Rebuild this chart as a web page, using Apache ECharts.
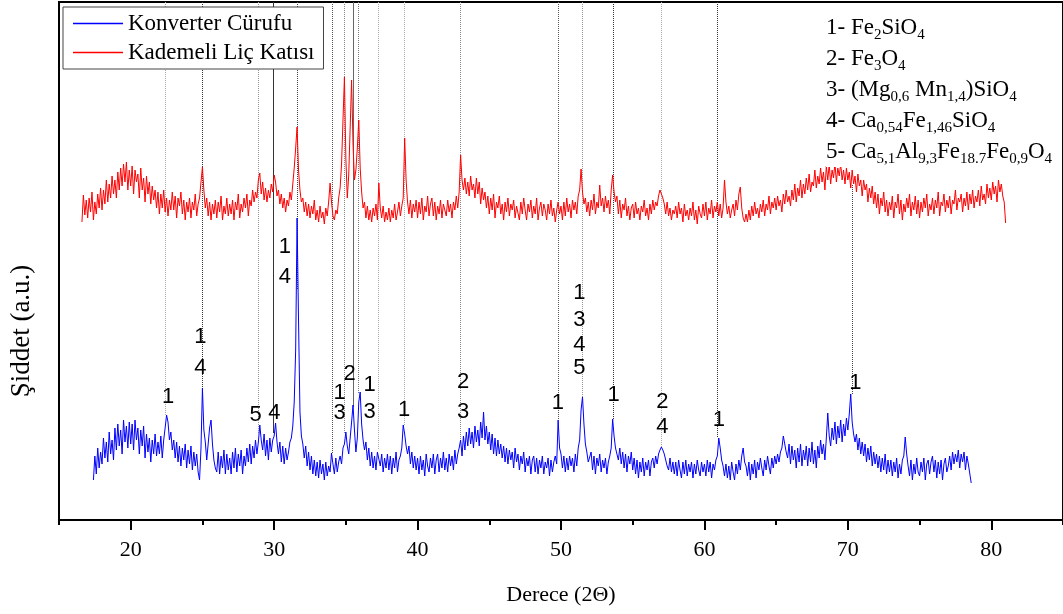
<!DOCTYPE html>
<html>
<head>
<meta charset="utf-8">
<script src="https://cdn.jsdelivr.net/npm/echarts@6/dist/echarts.min.js"></script>
<style>
  html, body { margin: 0; padding: 0; background: #fff; }
  #chart { width: 1063px; height: 614px; }
</style>
</head>
<body>
<div id="chart"></div>
<script>
// XRD desenleri - 2Θ taraması, adım 0.1
var stepDeg = 0.1;

// Konverter Cürufu (mavi), 17.4 .. 78.6
var blueStart = 17.4;
var blueCounts = [
  40, 64, 46, 72, 52, 68,
  56, 82, 62, 78, 58, 88, 66, 80, 60, 92,
  70, 96, 74, 90, 66, 100, 78, 94, 72, 98,
  76, 96, 70, 100, 80, 92, 66, 90, 74, 94,
  62, 86, 68, 82, 58, 80, 66, 86, 64, 78,
  66, 84, 62, 80, 92, 105, 98, 80, 88, 70,
  80, 62, 78, 58, 74, 54, 72, 60, 76, 52,
  70, 56, 74, 50, 68, 54, 66, 48, 40, 72,
  132, 90, 78, 60, 76, 92, 100, 76, 60, 52,
  48, 68, 46, 64, 52, 70, 46, 66, 50, 62,
  46, 68, 52, 72, 48, 66, 54, 70, 46, 64,
  54, 72, 58, 76, 56, 74, 62, 80, 66, 78,
  95, 80, 70, 86, 64, 80, 60, 82, 68, 80,
  84, 97, 78, 66, 78, 58, 74, 56, 72, 60,
  68, 78, 82, 94, 118, 170, 302, 200, 108, 84,
  76, 62, 74, 54, 68, 50, 64, 46, 60, 44,
  58, 42, 60, 46, 56, 40, 58, 44, 54, 48,
  67, 56, 46, 62, 48, 58, 64, 56, 72, 76,
  88, 74, 66, 82, 98, 115, 90, 68, 82, 118,
  128, 96, 80, 70, 78, 60, 72, 54, 68, 52,
  64, 50, 68, 70, 54, 66, 48, 62, 52, 66,
  50, 64, 46, 62, 52, 68, 48, 60, 64, 72,
  95, 86, 74, 66, 74, 56, 68, 52, 64, 50,
  62, 46, 64, 50, 60, 44, 66, 54, 48, 62,
  52, 66, 46, 60, 66, 48, 62, 52, 68, 50,
  62, 48, 66, 54, 64, 50, 70, 56, 66, 72,
  80, 64, 84, 70, 88, 74, 92, 76, 88, 72,
  94, 78, 90, 74, 98, 82, 108, 80, 94, 76,
  88, 70, 86, 66, 82, 64, 80, 66, 76, 62,
  74, 58, 72, 56, 70, 60, 68, 52, 72, 58,
  66, 50, 64, 56, 68, 48, 62, 54, 64, 46,
  60, 64, 48, 62, 46, 60, 52, 64, 46, 58,
  52, 62, 44, 60, 48, 58, 64, 56, 100, 72,
  66, 52, 64, 48, 62, 50, 64, 54, 62, 48,
  66, 54, 72, 80, 110, 123, 96, 76, 68, 58,
  60, 68, 50, 64, 46, 62, 54, 66, 48, 60,
  52, 62, 46, 58, 64, 72, 101, 84, 72, 66,
  60, 72, 56, 68, 52, 66, 48, 64, 56, 68,
  50, 62, 46, 60, 42, 58, 48, 62, 44, 58,
  50, 60, 44, 58, 62, 52, 64, 56, 66, 70,
  73, 70, 66, 60, 54, 50, 62, 48, 58, 46,
  58, 44, 60, 50, 42, 58, 46, 60, 44, 56,
  48, 58, 42, 56, 46, 60, 50, 44, 58, 48,
  56, 44, 60, 48, 58, 42, 56, 50, 60, 64,
  82, 72, 60, 54, 44, 56, 42, 54, 40, 58,
  48, 40, 56, 46, 60, 50, 64, 72, 58, 54,
  44, 58, 40, 56, 46, 60, 42, 58, 50, 62,
  52, 44, 60, 50, 64, 54, 46, 62, 52, 64,
  56, 66, 58, 68, 72, 84, 76, 68, 62, 76,
  56, 74, 60, 70, 52, 72, 58, 76, 54, 70,
  60, 74, 54, 72, 58, 78, 56, 70, 52, 74,
  62, 80, 66, 76, 60, 82, 107, 84, 74, 92,
  80, 98, 76, 94, 82, 100, 78, 96, 84, 102,
  90, 106, 126, 98, 86, 78, 86, 70, 82, 66,
  78, 64, 76, 58, 72, 60, 74, 54, 68, 56,
  66, 52, 64, 48, 62, 50, 66, 46, 60, 48,
  60, 44, 58, 48, 62, 42, 56, 46, 60, 64,
  83, 66, 54, 44, 60, 40, 56, 46, 62, 48,
  44, 58, 48, 62, 40, 56, 60, 46, 58, 64,
  48, 60, 42, 58, 46, 60, 40, 56, 62, 48,
  54, 64, 50, 68, 56, 66, 58, 70, 52, 66,
  58, 68, 50, 64, 56, 54, 37
];

// Kademeli Liç Katısı (kırmızı), 16.6 .. 81.0
var redStart = 16.6;
var redCounts = [
  298, 325, 305, 320,
  302, 322, 308, 328, 300, 318, 306, 326, 312, 332,
  310, 330, 316, 340, 318, 336, 322, 344, 326, 340,
  322, 348, 330, 352, 334, 356, 338, 358, 330, 350,
  334, 354, 326, 350, 338, 346, 322, 352, 330, 342,
  318, 344, 326, 338, 316, 334, 320, 330, 312, 328,
  306, 326, 312, 330, 308, 322, 304, 320, 310, 328,
  310, 324, 302, 322, 314, 328, 306, 320, 300, 318,
  308, 322, 302, 318, 310, 326, 304, 316, 322, 338,
  353, 330, 312, 322, 304, 318, 300, 316, 306, 320,
  302, 318, 308, 324, 300, 314, 306, 322, 304, 316,
  306, 320, 300, 318, 310, 326, 302, 316, 308, 322,
  312, 326, 304, 320, 314, 330, 318, 328, 322, 340,
  347, 326, 338, 320, 332, 318, 330, 322, 336, 328,
  345, 338, 324, 330, 316, 326, 312, 322, 308, 320,
  314, 328, 320, 336, 352, 372, 393, 350, 330, 318,
  322, 308, 318, 304, 316, 302, 314, 306, 320, 300,
  310, 298, 314, 302, 308, 296, 312, 304, 318, 337,
  318, 304, 300, 310, 306, 322, 332, 356, 400, 443,
  362, 322, 345, 392, 440, 376, 340, 350, 372, 400,
  352, 328, 312, 318, 302, 314, 300, 310, 298, 312,
  304, 316, 300, 337, 312, 302, 314, 298, 308, 300,
  312, 298, 310, 302, 316, 300, 308, 318, 304, 314,
  322, 382, 340, 318, 306, 320, 302, 316, 308, 320,
  302, 318, 306, 322, 300, 314, 308, 324, 304, 316,
  322, 304, 318, 300, 314, 306, 320, 302, 316, 310,
  304, 320, 308, 316, 302, 318, 310, 324, 312, 328,
  365, 340, 330, 342, 326, 338, 324, 344, 330, 336,
  322, 342, 326, 338, 316, 332, 320, 328, 312, 324,
  306, 322, 310, 326, 302, 318, 312, 324, 306, 316,
  300, 318, 308, 322, 304, 316, 310, 320, 302, 314,
  312, 300, 318, 306, 322, 310, 300, 316, 308, 320,
  302, 314, 306, 322, 300, 312, 318, 304, 316, 310,
  300, 316, 306, 320, 304, 312, 298, 310, 318, 306,
  314, 300, 318, 304, 322, 308, 316, 302, 320, 310,
  318, 306, 324, 330, 351, 328, 316, 322, 308, 318,
  304, 320, 310, 326, 306, 318, 312, 335, 314, 322,
  308, 324, 312, 320, 306, 330, 345, 328, 318, 324,
  306, 320, 302, 316, 310, 322, 304, 314, 300, 312,
  316, 302, 318, 306, 312, 300, 314, 308, 320, 304,
  312, 300, 316, 306, 320, 310, 318, 314, 324, 330,
  332, 322, 316, 306, 318, 304, 312, 300, 310, 306,
  314, 302, 318, 306, 312, 298, 316, 304, 310, 300,
  312, 304, 318, 300, 310, 296, 314, 306, 302, 316,
  304, 318, 300, 312, 306, 320, 302, 314, 308, 318,
  304, 316, 302, 312, 340, 318, 306, 314, 302, 310,
  316, 304, 320, 310, 326, 333, 312, 302, 298, 306,
  298, 310, 300, 314, 304, 318, 306, 312, 302, 316,
  308, 320, 304, 316, 310, 324, 306, 318, 312, 322,
  310, 324, 314, 320, 308, 326, 316, 330, 318, 324,
  314, 330, 320, 336, 318, 332, 324, 340, 322, 336,
  326, 342, 330, 346, 328, 338, 334, 350, 332, 344,
  336, 352, 338, 348, 330, 354, 340, 356, 336, 350,
  342, 357, 338, 352, 344, 356, 340, 350, 336, 352,
  340, 348, 332, 350, 336, 344, 328, 346, 334, 340,
  324, 340, 330, 336, 318, 332, 322, 334, 316, 328,
  312, 326, 306, 322, 314, 328, 308, 320, 304, 318,
  310, 324, 302, 318, 312, 326, 306, 320, 300, 316,
  308, 322, 312, 326, 304, 318, 310, 324, 306, 320,
  302, 318, 308, 322, 312, 326, 304, 316, 310, 322,
  306, 320, 312, 328, 304, 318, 314, 326, 308, 320,
  312, 324, 306, 320, 316, 330, 310, 322, 318, 326,
  308, 322, 314, 328, 310, 326, 316, 330, 312, 324,
  318, 330, 314, 334, 320, 326, 316, 336, 322, 332,
  320, 338, 326, 334, 318, 340, 328, 336, 324, 318,
  297
];

// faz referans çizgileri (2Θ), üst ve alt uçları (şiddet)
var refAngles = [22.42, 25.01, 28.90, 29.94, 31.60, 34.05, 34.91, 35.49, 35.88, 37.29, 39.07, 43.00, 49.78, 51.46, 53.64, 56.99, 60.92, 70.29];
var refTop    = [518, 518, 518, 518, 518, 518, 518, 518, 518, 518, 518, 518, 518, 518, 518, 518, 518, 335];
var refBottom = [105, 132, 87, 87, 230, 67, 87, 113, 127, 70, 95, 80, 100, 123, 101, 73, 82, 126];

// pik etiketleri
var peakLabelAngles  = [22.61, 24.86, 24.86, 28.71, 30.01, 30.75, 30.75, 34.57, 34.57, 35.26, 36.65, 36.65, 39.06, 43.17, 43.17, 49.78, 51.28, 51.28, 51.28, 51.28, 53.66, 57.06, 57.06, 61.0, 70.52];
var peakLabelHeights = [123, 183, 152, 105, 107, 273, 243, 127, 107, 146, 135, 108, 110, 138, 108, 117, 227, 200, 175, 152, 125, 118, 93, 100, 137];
var peakLabelTexts   = ['1', '1', '4', '5', '4', '1', '4', '1', '3', '2', '1', '3', '1', '2', '3', '1', '1', '3', '4', '5', '1', '2', '4', '1', '1'];

var seriesNames = ['Konverter Cürufu', 'Kademeli Liç Katısı'];
var phaseLines = [
  '1- Fe{s|2}SiO{s|4}',
  '2- Fe{s|3}O{s|4}',
  '3- (Mg{s|0,6} Mn{s|1,4})SiO{s|4}',
  '4- Ca{s|0,54}Fe{s|1,46}SiO{s|4}',
  '5- Ca{s|5,1}Al{s|9,3}Fe{s|18.7}Fe{s|0,9}O{s|4}'
];
var majorTicks = [20, 30, 40, 50, 60, 70, 80];
var minorTicks = [15, 25, 35, 45, 55, 65, 75, 85];

// çizgi renkleri (referans)
var refColors = ['#aaa', '#333', '#999', '#333', '#444', '#555', '#888', '#666', '#777', '#aaa', '#aaa', '#888', '#555', '#999', '#333', '#aaa', '#333', '#444'];
var refTypes  = ['dotted', 'dotted', 'dotted', 'solid', 'dotted', 'dotted', 'dotted', 'solid', 'dotted', 'dotted', 'dotted', 'dotted', 'dotted', 'dotted', 'dotted', 'dotted', 'dotted', 'dotted'];

function toPairs(start, arr) {
  var out = [];
  for (var i = 0; i < arr.length; i++) {
    out.push([+(start + i * stepDeg).toFixed(2), arr[i]]);
  }
  return out;
}

var refLines = [];
for (var i = 0; i < refAngles.length; i++) {
  refLines.push([
    { coord: [refAngles[i], refTop[i]], lineStyle: { color: refColors[i], type: refTypes[i], width: 1 } },
    { coord: [refAngles[i], refBottom[i]] }
  ]);
}

var labelPoints = [];
for (var j = 0; j < peakLabelTexts.length; j++) {
  labelPoints.push({ name: peakLabelTexts[j], coord: [peakLabelAngles[j], peakLabelHeights[j]] });
}

var serif = '"Liberation Serif", "Times New Roman", serif';
var chart = echarts.init(document.getElementById('chart'));

var option = {
  animation: false,
  backgroundColor: '#fff',
  grid: {
    left: 59, top: 2, right: -5, bottom: 94,
    show: true, borderColor: '#000', borderWidth: 2
  },
  legend: {
    data: seriesNames,
    orient: 'vertical',
    left: 63, top: 7,
    padding: [5, 9, 5, 10],
    itemGap: 6,
    icon: 'rect',
    itemWidth: 50,
    itemHeight: 1.5,
    backgroundColor: '#fff',
    borderColor: '#444',
    borderWidth: 1,
    z: 10,
    textStyle: { fontFamily: serif, fontSize: 23, color: '#000' }
  },
  xAxis: [{
    type: 'value',
    min: 15, max: 85,
    position: 'bottom',
    name: 'Derece (2Θ)',
    nameLocation: 'middle',
    nameGap: 64,
    nameTextStyle: { fontFamily: serif, fontSize: 22, color: '#000' },
    axisLine: { show: true, lineStyle: { color: '#000', width: 2 } },
    axisTick: { show: true, length: 10, lineStyle: { color: '#000', width: 2 }, customValues: majorTicks },
    axisLabel: { fontFamily: serif, fontSize: 22, color: '#000', margin: 19, customValues: majorTicks },
    splitLine: { show: false }
  }, {
    type: 'value',
    min: 15, max: 85,
    position: 'bottom',
    axisLine: { show: false },
    axisTick: { show: true, length: 5, lineStyle: { color: '#000', width: 2 }, customValues: minorTicks },
    axisLabel: { show: false },
    splitLine: { show: false }
  }],
  yAxis: {
    type: 'value',
    min: 0, max: 518,
    axisLine: { show: true, lineStyle: { color: '#000', width: 2 } },
    axisTick: { show: false },
    axisLabel: { show: false },
    splitLine: { show: false }
  },
  graphic: [{
    type: 'text',
    x: 22, y: 331,
    rotation: Math.PI / 2,
    style: {
      text: 'Şiddet (a.u.)',
      fontFamily: serif, fontSize: 27, fill: '#000',
      align: 'center', verticalAlign: 'middle'
    }
  }, {
    type: 'text',
    left: 826, top: 12,
    z: 20,
    style: {
      text: phaseLines.join('\n'),
      fontFamily: serif, fontSize: 23, fill: '#000',
      lineHeight: 31,
      backgroundColor: '#fff',
      rich: {
        s: { fontFamily: serif, fontSize: 15, fill: '#000', verticalAlign: 'bottom', lineHeight: 26 }
      }
    }
  }],
  series: [{
    name: seriesNames[0],
    type: 'line',
    data: toPairs(blueStart, blueCounts),
    symbol: 'none',
    z: 3,
    lineStyle: { color: '#0000ff', width: 1 },
    itemStyle: { color: '#0000ff' },
    markLine: {
      silent: true,
      symbol: 'none',
      label: { show: false },
      z: 1,
      data: refLines
    },
    markPoint: {
      silent: true,
      symbol: 'circle',
      symbolSize: 1,
      itemStyle: { color: 'rgba(0,0,0,0)' },
      label: {
        show: true, position: 'inside', formatter: '{b}',
        fontFamily: '"Liberation Sans", Arial, sans-serif', fontSize: 22, color: '#000'
      },
      data: labelPoints
    }
  }, {
    name: seriesNames[1],
    type: 'line',
    data: toPairs(redStart, redCounts),
    symbol: 'none',
    z: 4,
    lineStyle: { color: '#ff0000', width: 1 },
    itemStyle: { color: '#ff0000' }
  }]
};

chart.setOption(option);
</script>
</body>
</html>
